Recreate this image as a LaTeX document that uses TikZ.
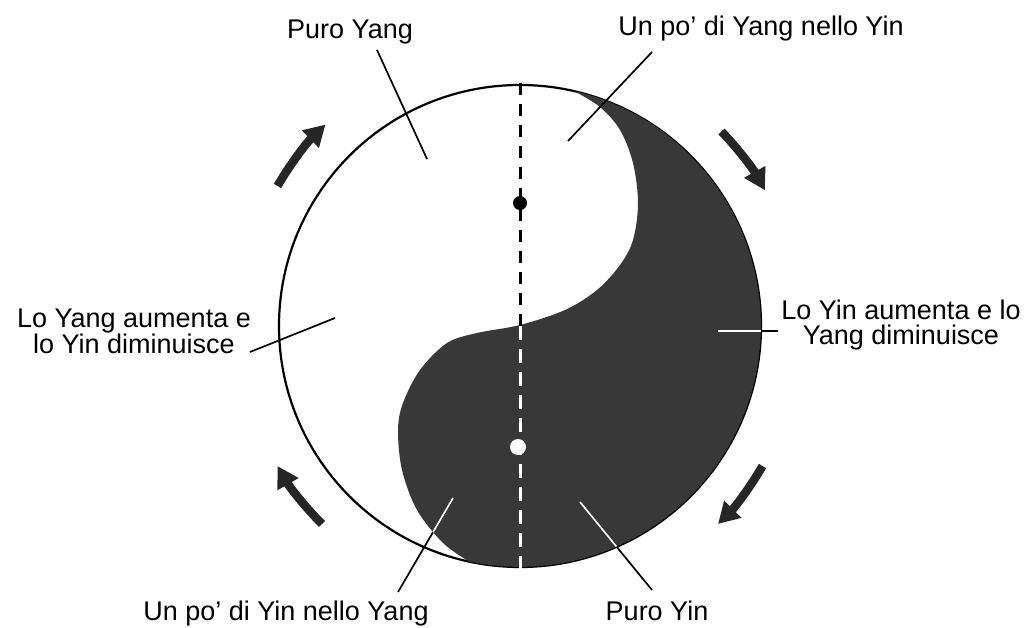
\documentclass[tikz,border=0pt]{standalone}
\usepackage{fontspec}
\setmainfont{Liberation Sans}
\usepackage{xcolor}
\usetikzlibrary{calc,arrows.meta}
\definecolor{yinGray}{HTML}{383838}

% dark half of the symbol
\newcommand{\yinpath}{(574,536) arc[start angle=77, end angle=-102, radius=241]
  -- plot[smooth, tension=0.55] coordinates {(470,65) (443,84) (417,117)
     (402,157) (398,197) (403,224) (420,257) (447,284) (477,294) (520,302)
     (565,317) (597,337) (620,362) (633,387) (638,424) (633,464) (620,497)
     (600,520) (574,536)} -- cycle}

\begin{document}
\begin{tikzpicture}[x=1pt,y=1pt,
  lbl/.style={font=\fontsize{27}{25}\selectfont, inner sep=0pt, align=center},
  leader/.style={line width=1.7pt},
  flowarrow/.style={line width=8.5pt, draw=black!85,
    -{Triangle[width=23pt,length=21pt]}}]

\useasboundingbox (0,0) rectangle (1027,627);
\coordinate (c) at (520,301);

% outer circle and yin
\draw[line width=2.2pt] (c) circle[radius=241];
\fill[yinGray] \yinpath;

% axis
\draw[line width=3pt, dash pattern=on 12pt off 9pt] (520,544) -- (c);
\draw[white, line width=3pt, dash pattern=on 14pt off 9pt] (c) -- (520,58);

% the two seeds
\fill (520,424) circle[radius=7];
\fill[white] (518,180) circle[radius=8];

% labels
\node[lbl, anchor=base] (puroyang) at (350,588) {Puro Yang};
\node[lbl, anchor=base] (yanginyin) at (761,591) {Un po' di Yang nello Yin};
\node[lbl, anchor=base] (yangup) at (134,273) {Lo Yang aumenta e\\lo Yin diminuisce};
\node[lbl, anchor=base] (yinup) at (901,282) {Lo Yin aumenta e lo\\Yang diminuisce};
\node[lbl, anchor=base] (yininyang) at (286,7) {Un po' di Yin nello Yang};
\node[lbl, anchor=base] (puroyin) at (657,7) {Puro Yin};

% leader ends
\coordinate (puroyangA) at (377,577);
\coordinate (puroyangB) at (427,468);
\coordinate (yanginyinA) at (652,575);
\coordinate (yanginyinB) at (568,486);
\coordinate (yangupA) at (250,275);
\coordinate (yangupB) at (335,309);
\coordinate (yinupA) at (778,296);
\coordinate (yinupB) at (718,296);
\coordinate (yininyangA) at (398,35);
\coordinate (yininyangB) at (453,129);
\coordinate (puroyinA) at (652,37);
\coordinate (puroyinB) at (580,125);

\draw[leader] (puroyangA) -- (puroyangB);
\draw[leader] (yanginyinA) -- (yanginyinB);
\draw[leader] (yangupA) -- (yangupB);
\draw[leader] (yinupA) -- (yinupB);
\draw[leader] (yininyangA) -- (yininyangB);
\draw[leader] (puroyinA) -- (puroyinB);

% leaders turn white over the dark part
\begin{scope}
\clip \yinpath;
\draw[leader, white] (yinupA) -- (yinupB);
\draw[leader, white] (yininyangA) -- (yininyangB);
\draw[leader, white] (puroyinA) -- (puroyinB);
\end{scope}

% clockwise arrows
\foreach \a/\b in {150/134, 44/29, -30/-45, 225/210}
  \draw[flowarrow] ($(c)+(\a:280)$) arc[start angle=\a, end angle=\b, radius=280];

\end{tikzpicture}
\end{document}
